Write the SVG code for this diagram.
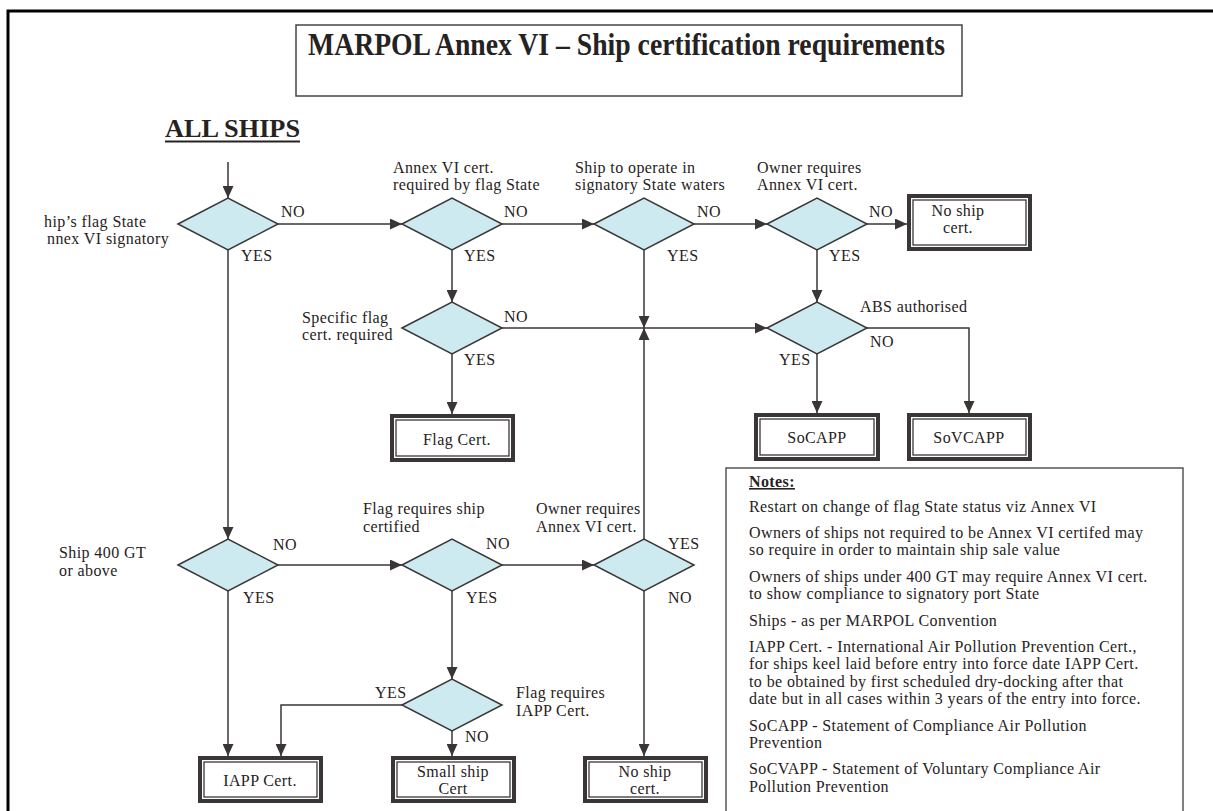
<svg xmlns="http://www.w3.org/2000/svg" width="1213" height="811" viewBox="0 0 1213 811">
<defs>
<marker id="ah" markerUnits="userSpaceOnUse" markerWidth="12" markerHeight="11" refX="12" refY="5.5" orient="auto">
<path d="M0,0 L12,5.5 L0,11 z" fill="#3a3636"/>
</marker>
<style>
text{font-family:"Liberation Serif","Times New Roman",serif;fill:#262222;}
.t{font-size:16px;letter-spacing:0.4px;}
.c{font-size:16px;letter-spacing:0.4px;text-anchor:middle;}
.d{fill:#cdeaf0;stroke:#3a3636;stroke-width:1.5;}
.bo{fill:#fff;stroke:#3a3636;stroke-width:4;}
.bi{fill:none;stroke:#3a3636;stroke-width:1.3;}
.ln{fill:none;stroke:#3a3636;stroke-width:1.5;}
.ar{fill:none;stroke:#3a3636;stroke-width:1.5;marker-end:url(#ah);}
</style>
</defs>
<rect width="1213" height="811" fill="#fff"/>
<rect x="8" y="11" width="1300" height="900" fill="none" stroke="#000" stroke-width="3"/>

<g id="title">
<rect x="296" y="25" width="666" height="71" fill="#fff" stroke="#444" stroke-width="1.5"/>
<text x="308" y="55" font-size="31" font-weight="bold" textLength="637" lengthAdjust="spacingAndGlyphs">MARPOL Annex VI – Ship certification requirements</text>
</g>
<g id="allships">
<text x="165" y="137" font-size="26" font-weight="bold" textLength="135" lengthAdjust="spacingAndGlyphs">ALL SHIPS</text>
<line x1="165" y1="141.5" x2="300" y2="141.5" stroke="#262222" stroke-width="2"/>
</g>

<g id="connectors">
<path class="ar" d="M228,162 V198"/>
<path class="ar" d="M278,224 H402"/>
<path class="ar" d="M502,224 H594"/>
<path class="ar" d="M694,224 H767"/>
<path class="ar" d="M867,224 H907"/>
<path class="ar" d="M452,250 V302"/>
<path class="ar" d="M817,250 V302"/>
<path class="ar" d="M502,328 H767"/>
<path class="ar" d="M644,250 V328"/>
<path class="ar" d="M644,539 V328"/>
<path class="ar" d="M817,354 V413"/>
<path class="ar" d="M867,328 H969 V413"/>
<path class="ar" d="M452,354 V414"/>
<path class="ar" d="M228,250 V539"/>
<path class="ar" d="M278,565 H402"/>
<path class="ar" d="M502,565 H594"/>
<path class="ar" d="M228,591 V756"/>
<path class="ar" d="M452,591 V679"/>
<path class="ar" d="M402,705 H281 V756"/>
<path class="ar" d="M452,731 V756"/>
<path class="ar" d="M644,591 V756"/>
</g>

<g id="d1">
<polygon class="d" points="178,224 228,198 278,224 228,250"/>
<text class="t" x="44" y="227">hip’s flag State</text>
<text class="t" x="47" y="244">nnex VI signatory</text>
<text class="t" x="281" y="217">NO</text>
<text class="t" x="241" y="261">YES</text>
</g>
<g id="d2">
<polygon class="d" points="402,224 452,198 502,224 452,250"/>
<text class="t" x="393" y="173">Annex VI cert.</text>
<text class="t" x="393" y="190">required by flag State</text>
<text class="t" x="504" y="217">NO</text>
<text class="t" x="464" y="261">YES</text>
</g>
<g id="d3">
<polygon class="d" points="594,224 644,198 694,224 644,250"/>
<text class="t" x="575" y="173">Ship to operate in</text>
<text class="t" x="575" y="190">signatory State waters</text>
<text class="t" x="697" y="217">NO</text>
<text class="t" x="667" y="261">YES</text>
</g>
<g id="d4">
<polygon class="d" points="767,224 817,198 867,224 817,250"/>
<text class="t" x="757" y="173">Owner requires</text>
<text class="t" x="757" y="190">Annex VI cert.</text>
<text class="t" x="869" y="217">NO</text>
<text class="t" x="829" y="261">YES</text>
</g>
<g id="noship1">
<rect class="bo" x="909" y="196" width="121" height="53"/>
<rect class="bi" x="913" y="200" width="113" height="45"/>
<text class="c" x="958" y="216">No ship</text>
<text class="c" x="958" y="233">cert.</text>
</g>
<g id="dspec">
<polygon class="d" points="402,328 452,302 502,328 452,354"/>
<text class="t" x="302" y="323">Specific flag</text>
<text class="t" x="302" y="340">cert. required</text>
<text class="t" x="504" y="322">NO</text>
<text class="t" x="464" y="365">YES</text>
</g>
<g id="d5">
<polygon class="d" points="767,328 817,302 867,328 817,354"/>
<text class="t" x="860" y="312">ABS authorised</text>
<text class="t" x="870" y="347">NO</text>
<text class="t" x="779" y="365">YES</text>
</g>
<g id="flagcert">
<rect class="bo" x="392" y="416" width="121" height="44"/>
<rect class="bi" x="396" y="420" width="113" height="36"/>
<text class="c" x="457" y="445">Flag Cert.</text>
</g>
<g id="socapp">
<rect class="bo" x="756" y="415" width="122" height="44"/>
<rect class="bi" x="760" y="419" width="114" height="36"/>
<text class="c" x="817" y="443">SoCAPP</text>
</g>
<g id="sovcapp">
<rect class="bo" x="909" y="415" width="121" height="44"/>
<rect class="bi" x="913" y="419" width="113" height="36"/>
<text class="c" x="969" y="443">SoVCAPP</text>
</g>
<g id="d6">
<polygon class="d" points="178,565 228,539 278,565 228,591"/>
<text class="t" x="59" y="558">Ship 400 GT</text>
<text class="t" x="59" y="576">or above</text>
<text class="t" x="273" y="550">NO</text>
<text class="t" x="243" y="603">YES</text>
</g>
<g id="d7">
<polygon class="d" points="402,565 452,539 502,565 452,591"/>
<text class="t" x="363" y="514">Flag requires ship</text>
<text class="t" x="363" y="532">certified</text>
<text class="t" x="486" y="549">NO</text>
<text class="t" x="466" y="603">YES</text>
</g>
<g id="d8">
<polygon class="d" points="594,565 644,539 694,565 644,591"/>
<text class="t" x="536" y="514">Owner requires</text>
<text class="t" x="536" y="532">Annex VI cert.</text>
<text class="t" x="668" y="549">YES</text>
<text class="t" x="668" y="603">NO</text>
</g>
<g id="d9">
<polygon class="d" points="402,705 452,679 502,705 452,731"/>
<text class="t" x="516" y="698">Flag requires</text>
<text class="t" x="516" y="716">IAPP Cert.</text>
<text class="t" x="375" y="698">YES</text>
<text class="t" x="465" y="742">NO</text>
</g>
<g id="iapp">
<rect class="bo" x="200" y="758" width="121" height="43"/>
<rect class="bi" x="204" y="762" width="113" height="35"/>
<text class="c" x="260" y="786">IAPP Cert.</text>
</g>
<g id="smallship">
<rect class="bo" x="393" y="758" width="121" height="43"/>
<rect class="bi" x="397" y="762" width="113" height="35"/>
<text class="c" x="453" y="777">Small ship</text>
<text class="c" x="453" y="794">Cert</text>
</g>
<g id="noship2">
<rect class="bo" x="585" y="758" width="121" height="43"/>
<rect class="bi" x="589" y="762" width="113" height="35"/>
<text class="c" x="645" y="777">No ship</text>
<text class="c" x="645" y="794">cert.</text>
</g>

<g id="notes">
<rect x="726" y="468" width="457" height="400" fill="#fff" stroke="#555" stroke-width="1.5"/>
<text class="t" x="749" y="487" font-weight="bold" text-decoration="underline">Notes:</text>
<text class="t" x="749" y="512">Restart on change of flag State status viz Annex VI</text>
<text class="t" x="749" y="538">Owners of ships not required to be Annex VI certifed may</text>
<text class="t" x="749" y="555">so require in order to maintain ship sale value</text>
<text class="t" x="749" y="582">Owners of ships under 400 GT may require Annex VI cert.</text>
<text class="t" x="749" y="599">to show compliance to signatory port State</text>
<text class="t" x="749" y="626">Ships - as per MARPOL Convention</text>
<text class="t" x="749" y="652">IAPP Cert. - International Air Pollution Prevention Cert.,</text>
<text class="t" x="749" y="669">for ships keel laid before entry into force date IAPP Cert.</text>
<text class="t" x="749" y="687">to be obtained by first scheduled dry-docking after that</text>
<text class="t" x="749" y="704">date but in all cases within 3 years of the entry into force.</text>
<text class="t" x="749" y="731">SoCAPP - Statement of Compliance Air Pollution</text>
<text class="t" x="749" y="748">Prevention</text>
<text class="t" x="749" y="774">SoCVAPP - Statement of Voluntary Compliance Air</text>
<text class="t" x="749" y="792">Pollution Prevention</text>
</g>
</svg>
